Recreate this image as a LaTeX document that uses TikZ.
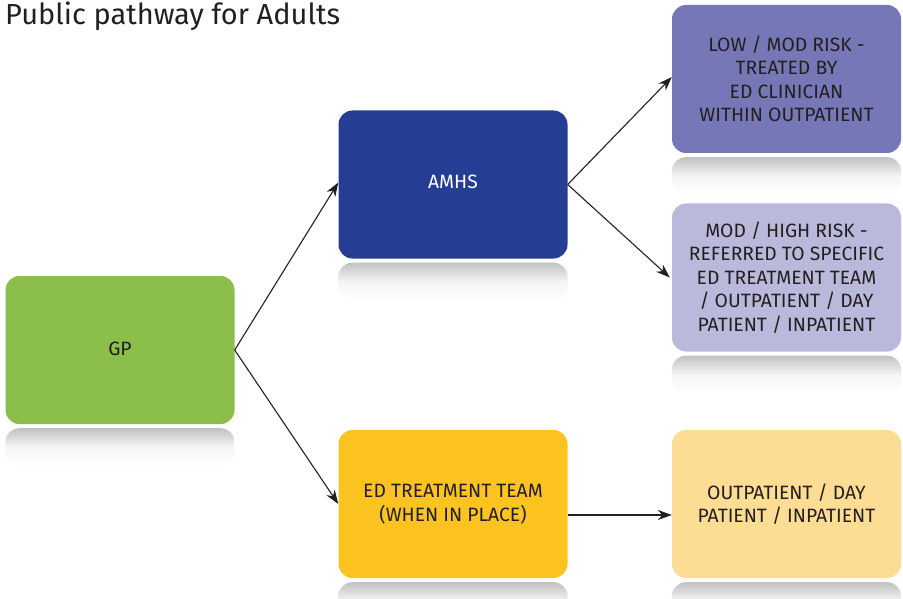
\documentclass[tikz,border=0pt]{standalone}
\usepackage{fontspec}
\setmainfont{Fira Sans}
\usetikzlibrary{arrows.meta}
\definecolor{cgreen}{HTML}{8BBE4B}
\definecolor{cblue}{HTML}{253D93}
\definecolor{cpurple}{HTML}{7677B7}
\definecolor{clpurple}{HTML}{BBB9DB}
\definecolor{cyellow}{HTML}{FDC421}
\definecolor{clyellow}{HTML}{FDDC94}
\definecolor{ctext}{HTML}{231F20}
\tikzset{
  boxstyle/.style={rounded corners=14pt, minimum width=229pt, minimum height=148pt,
    inner sep=0pt, align=center, text=ctext, font=\fontsize{19.3}{23.5}\selectfont},
  conn/.style={line width=1.1pt, draw=ctext, -{Stealth[length=14pt,width=10pt]}},
  refl/.style={top color=gray!48, bottom color=white, middle color=gray!8, rounded corners=14pt}
}
\begin{document}
\begin{tikzpicture}[x=1pt,y=-1pt]
\useasboundingbox (0,0) rectangle (903,599);
\clip (0,0) rectangle (903,599);
\node[anchor=base west, inner sep=0pt, text=ctext, font=\fontsize{29}{32}\selectfont] (title) at (5,25) {Public pathway for Adults};
\node[boxstyle, fill=cgreen] (gp) at (120,350) {\raisebox{3pt}{GP}};
\node[boxstyle, fill=cblue, text=white] (amhs) at (453,184.5) {\raisebox{6pt}{AMHS}};
\node[boxstyle, fill=cpurple] (low) at (786.5,79) {LOW / MOD RISK -\\TREATED BY\\ED CLINICIAN\\WITHIN OUTPATIENT};
\node[boxstyle, fill=clpurple] (mod) at (786.5,277.5) {MOD / HIGH RISK -\\REFERRED TO SPECIFIC\\ED TREATMENT TEAM\\/ OUTPATIENT / DAY\\PATIENT / INPATIENT};
\node[boxstyle, fill=cyellow] (ed) at (453,504) {ED TREATMENT TEAM\\(WHEN IN PLACE)};
\node[boxstyle, fill=clyellow] (out) at (786.5,504) {OUTPATIENT / DAY\\PATIENT / INPATIENT};
\foreach \n in {gp,amhs,low,mod,ed,out}{
  \shade[refl] ([yshift=-4pt]\n.south west) rectangle ([yshift=-42pt]\n.south east);
}
\draw[conn] (gp.east) -- ([yshift=2pt]amhs.west);
\draw[conn] (gp.east) -- (ed.west);
\draw[conn] (amhs.east) -- ([yshift=2pt]low.west);
\draw[conn] (amhs.east) -- ([xshift=-2pt]mod.west);
\draw[conn] ([yshift=-11pt]ed.east) -- ([yshift=-11pt]out.west);
\end{tikzpicture}
\end{document}
